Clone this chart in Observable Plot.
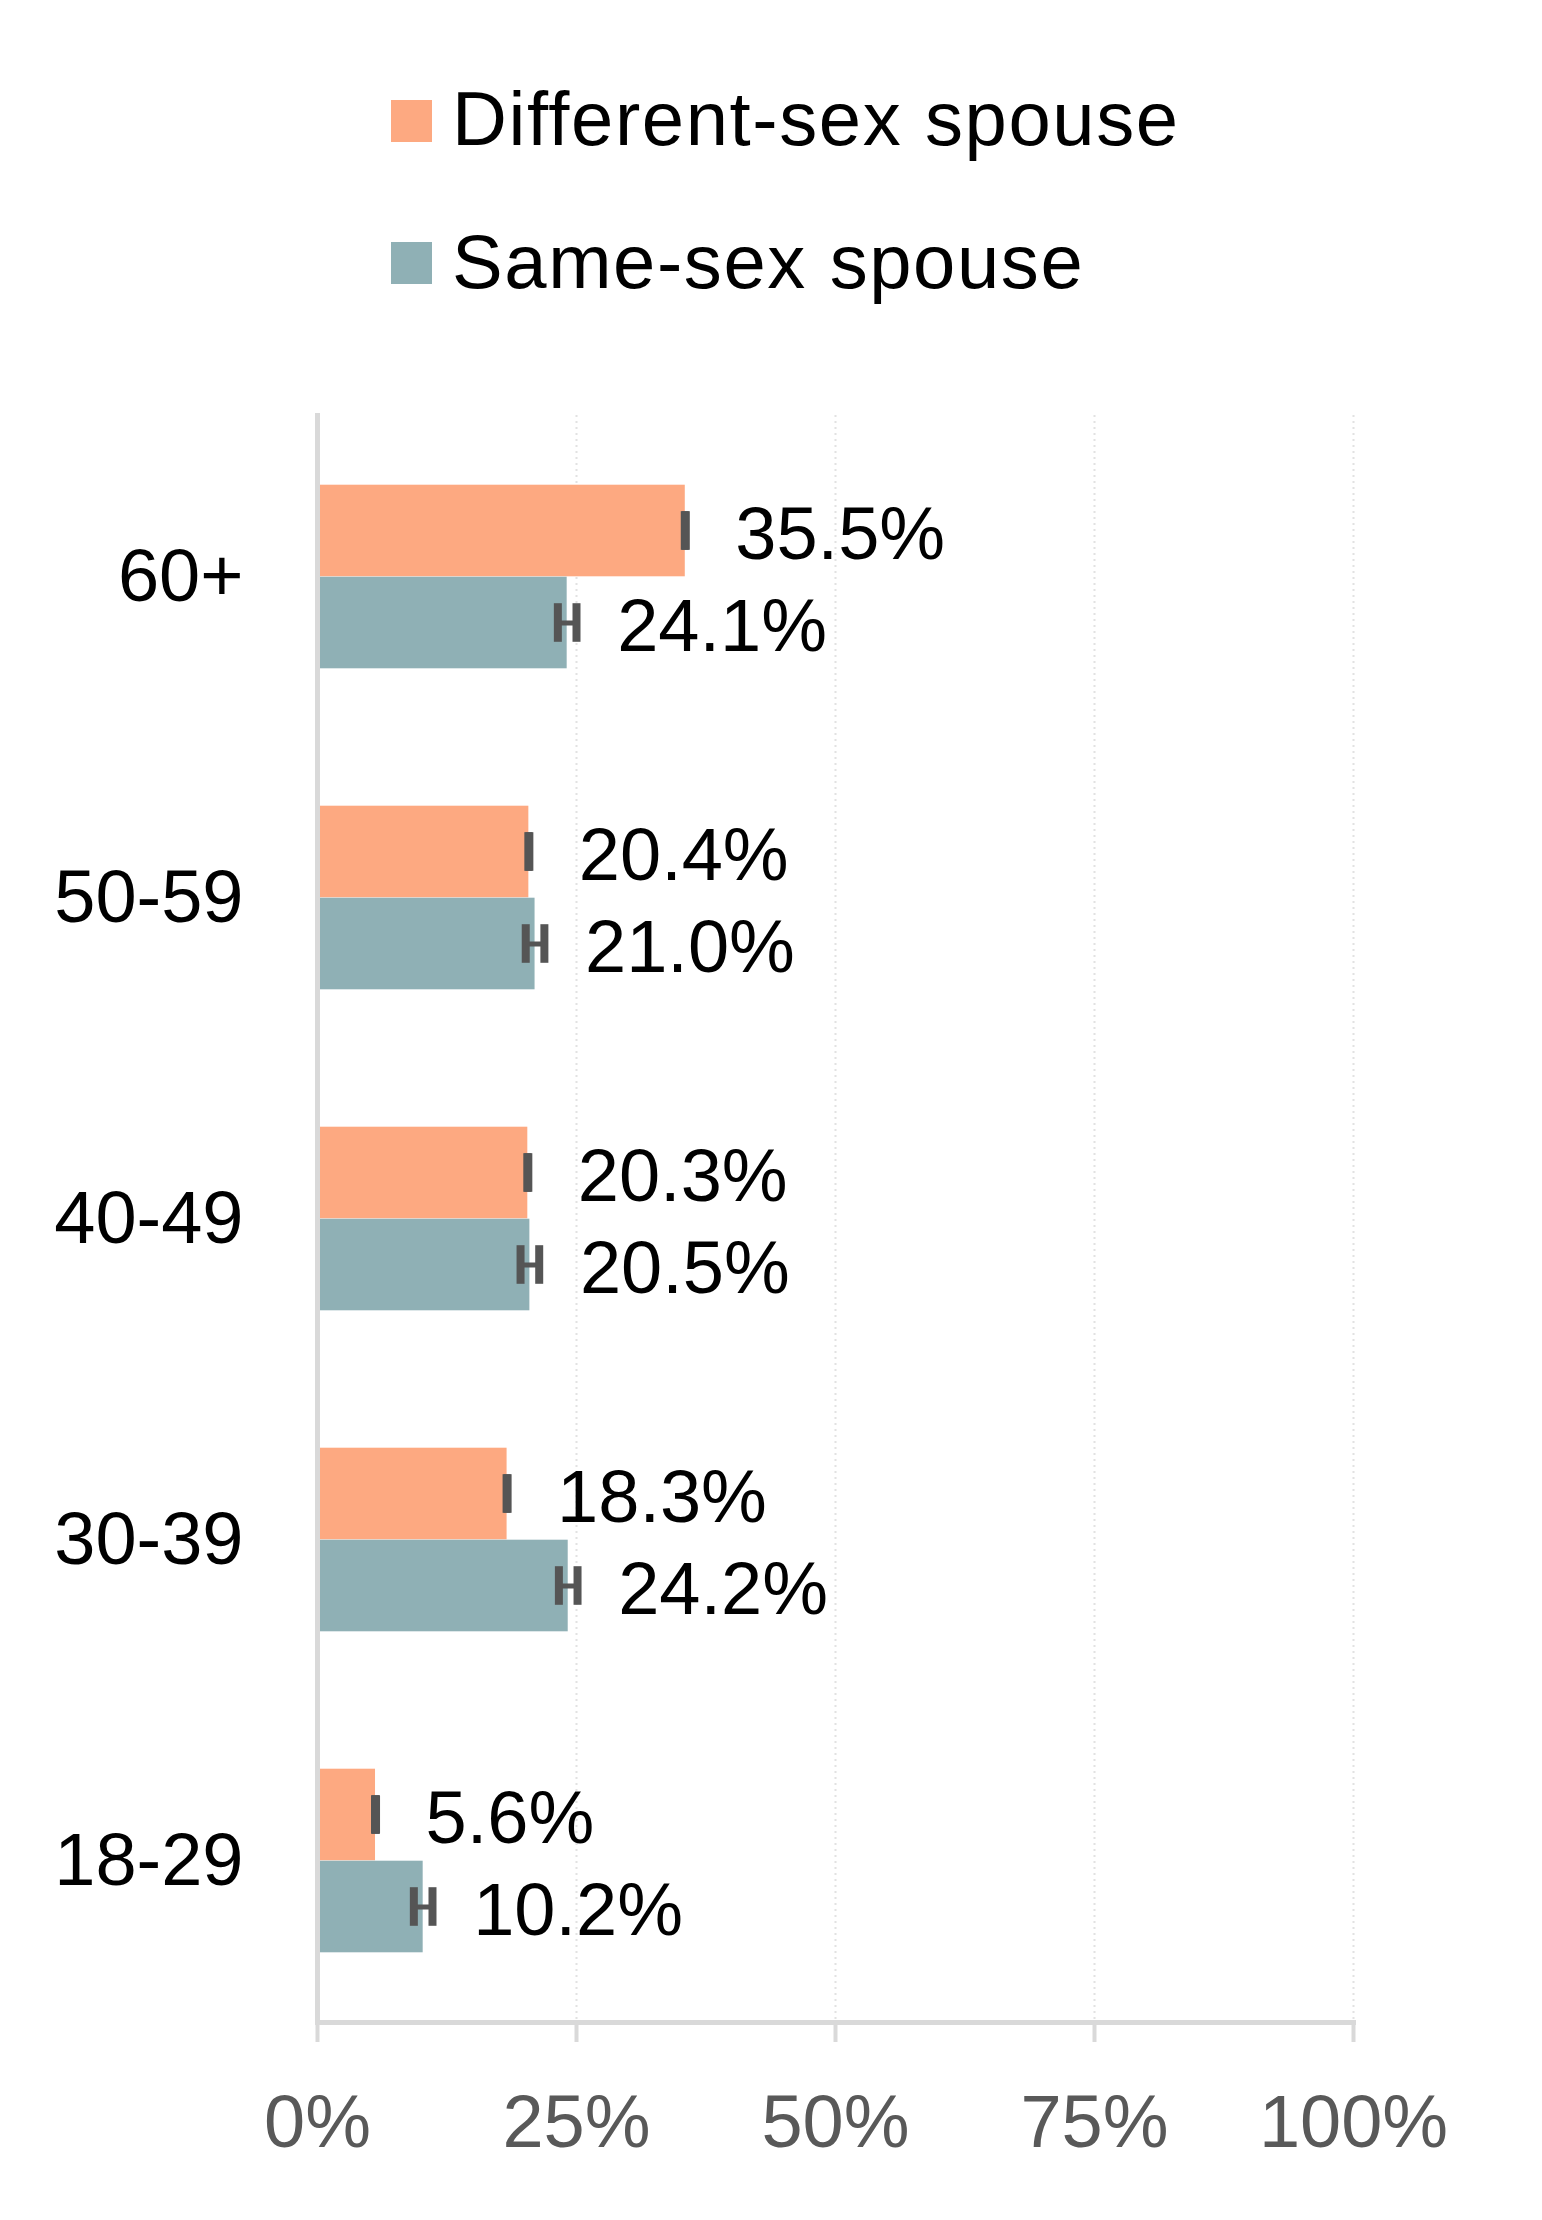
<!DOCTYPE html>
<html>
<head>
<meta charset="utf-8">
<script src="https://cdn.jsdelivr.net/npm/d3@7"></script>
<script src="https://cdn.jsdelivr.net/npm/@observablehq/plot@0.6"></script>
<style>
  html, body { margin: 0; padding: 0; background: #fff; }
  #wrap { position: relative; width: 1542px; height: 2220px; font-family: "Liberation Sans", Arial, sans-serif; }
  #chart { position: absolute; left: 0; top: 0; }
  .lg { position: absolute; left: 0; top: 0; }
  .lg .sw { position: absolute; width: 41px; height: 42px; }
  .lg .tx { position: absolute; font-size: 76px; line-height: 76px; letter-spacing: 1.6px; color: #000; white-space: nowrap; }
</style>
</head>
<body>
<div id="wrap">
  <div id="chart"></div>
  <div class="lg" id="legend"></div>
</div>
<script>
const categories = ["60+", "50-59", "40-49", "30-39", "18-29"];
const seriesNames = ["Different-sex spouse", "Same-sex spouse"];
const seriesColors = ["#FDA981", "#8FB0B5"];
const differentSex = [35.5, 20.4, 20.3, 18.3, 5.6];
const sameSex = [24.1, 21.0, 20.5, 24.2, 10.2];
const differentSexErr = [0.05, 0.05, 0.05, 0.05, 0.05];
const sameSexErr = [0.9, 0.9, 0.9, 0.9, 0.9];
const xTicks = [0, 25, 50, 75, 100];

const rows = [];
categories.forEach((c, i) => {
  rows.push({category: c, series: seriesNames[0], value: differentSex[i], err: differentSexErr[i]});
  rows.push({category: c, series: seriesNames[1], value: sameSex[i], err: sameSexErr[i]});
});
const diffRows = rows.filter(d => d.series === seriesNames[0]);
const sameRows = rows.filter(d => d.series === seriesNames[1]);

const W = 1542, H = 2220;
const mTop = 415, mBottom = 198, mLeft = 317, mRight = 189;
const step = (H - mTop - mBottom) / categories.length;
const half = step / 2;
const barH = 92;
const capH = 39;
const errCol = "#555555";

const capInsDiff = {insetTop: half - barH / 2 - capH / 2, insetBottom: half + barH / 2 - capH / 2};
const capInsSame = {insetTop: half + barH / 2 - capH / 2, insetBottom: half - barH / 2 - capH / 2};

const plot = Plot.plot({
  width: W,
  height: H,
  marginTop: mTop,
  marginBottom: mBottom,
  marginLeft: mLeft,
  marginRight: mRight,
  style: {fontFamily: "'Liberation Sans', Arial, sans-serif", background: "#fff"},
  x: {domain: [0, 100], label: null},
  y: {domain: categories, padding: 0, label: null},
  marks: [
    Plot.gridX({ticks: xTicks.slice(1), stroke: "#cfcfcf", strokeOpacity: 0.6, strokeWidth: 2, strokeDasharray: "2,4"}),
    Plot.barX(diffRows, {x: "value", y: "category", fill: seriesColors[0], insetTop: half - barH, insetBottom: half}),
    Plot.barX(sameRows, {x: "value", y: "category", fill: seriesColors[1], insetTop: half, insetBottom: half - barH}),
    // error bars: horizontal stems
    Plot.ruleY(diffRows, {y: "category", x1: d => d.value - d.err, x2: d => d.value + d.err, stroke: errCol, strokeWidth: 5, dy: -barH / 2}),
    Plot.ruleY(sameRows, {y: "category", x1: d => d.value - d.err, x2: d => d.value + d.err, stroke: errCol, strokeWidth: 5, dy: barH / 2}),
    // error bar caps
    Plot.tickX(diffRows, {x: d => d.value - d.err, y: "category", stroke: errCol, strokeWidth: 8, ...capInsDiff}),
    Plot.tickX(diffRows, {x: d => d.value + d.err, y: "category", stroke: errCol, strokeWidth: 8, ...capInsDiff}),
    Plot.tickX(sameRows, {x: d => d.value - d.err, y: "category", stroke: errCol, strokeWidth: 8, ...capInsSame}),
    Plot.tickX(sameRows, {x: d => d.value + d.err, y: "category", stroke: errCol, strokeWidth: 8, ...capInsSame}),
    // value labels
    Plot.text(diffRows, {x: "value", y: "category", text: d => d.value.toFixed(1) + "%", textAnchor: "start", dx: 50, dy: -barH / 2 + 4, fontSize: 74, fill: "#000"}),
    Plot.text(sameRows, {x: "value", y: "category", text: d => d.value.toFixed(1) + "%", textAnchor: "start", dx: 50, dy: barH / 2 + 4, fontSize: 74, fill: "#000"}),
    // axes
    Plot.frame({anchor: "left", stroke: "#d9d9d9", strokeWidth: 5}),
    Plot.frame({anchor: "bottom", stroke: "#d9d9d9", strokeWidth: 5}),
    Plot.axisX({ticks: xTicks, tickFormat: d => d + "%", tickSize: 20, tickPadding: 52, stroke: "#d9d9d9", strokeWidth: 4, fill: "#595959", fontSize: 74, label: null}),
    Plot.axisY({tickSize: 0, tickPadding: 74, fontSize: 74, fill: "#000", label: null})
  ]
});
document.getElementById("chart").appendChild(plot);

// legend
const lg = document.getElementById("legend");
const swTops = [100, 242];
const txTops = [81, 224];
seriesNames.forEach((name, i) => {
  const sw = document.createElement("div");
  sw.className = "sw";
  sw.style.left = "391px";
  sw.style.top = swTops[i] + "px";
  sw.style.background = seriesColors[i];
  lg.appendChild(sw);
  const tx = document.createElement("div");
  tx.className = "tx";
  tx.style.left = "452px";
  tx.style.top = txTops[i] + "px";
  tx.textContent = name;
  lg.appendChild(tx);
});
</script>
</body>
</html>
